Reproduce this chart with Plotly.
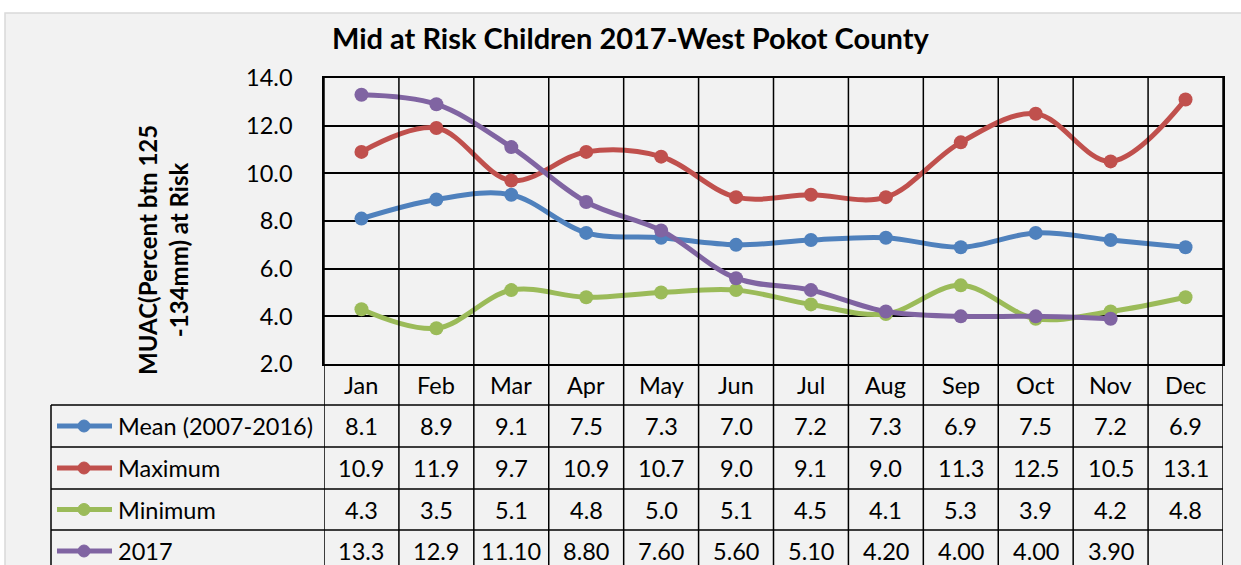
import plotly.graph_objects as go

W, H = 1241, 565

months = ["Jan", "Feb", "Mar", "Apr", "May", "Jun", "Jul", "Aug", "Sep", "Oct", "Nov", "Dec"]
series_names = ["Mean (2007-2016)", "Maximum", "Minimum", "2017"]
mean_vals = [8.1, 8.9, 9.1, 7.5, 7.3, 7.0, 7.2, 7.3, 6.9, 7.5, 7.2, 6.9]
max_vals = [10.9, 11.9, 9.7, 10.9, 10.7, 9.0, 9.1, 9.0, 11.3, 12.5, 10.5, 13.1]
min_vals = [4.3, 3.5, 5.1, 4.8, 5.0, 5.1, 4.5, 4.1, 5.3, 3.9, 4.2, 4.8]
y2017_vals = [13.3, 12.9, 11.10, 8.80, 7.60, 5.60, 5.10, 4.20, 4.00, 4.00, 3.90, None]
mean_labels = ["8.1", "8.9", "9.1", "7.5", "7.3", "7.0", "7.2", "7.3", "6.9", "7.5", "7.2", "6.9"]
max_labels = ["10.9", "11.9", "9.7", "10.9", "10.7", "9.0", "9.1", "9.0", "11.3", "12.5", "10.5", "13.1"]
min_labels = ["4.3", "3.5", "5.1", "4.8", "5.0", "5.1", "4.5", "4.1", "5.3", "3.9", "4.2", "4.8"]
y2017_labels = ["13.3", "12.9", "11.10", "8.80", "7.60", "5.60", "5.10", "4.20", "4.00", "4.00", "3.90", ""]
colors = ["#4f81bd", "#c0504d", "#9bbb59", "#8064a2"]

all_vals = [mean_vals, max_vals, min_vals, y2017_vals]
all_labels = [mean_labels, max_labels, min_labels, y2017_labels]

FONT = "Lato"
FS = 23.5

def px(x):
    return x / W

def py(y):
    return 1 - y / H

PL, PR, PT, PB = 324, 1223, 78, 364
ROW_Y = [364, 405, 447, 489, 530, 572]
LEG_L = 51

fig = go.Figure()
xs = list(range(len(months)))
for name, vals, c in zip(series_names, all_vals, colors):
    fig.add_trace(go.Scatter(
        x=xs, y=vals, name=name, mode="lines+markers",
        line=dict(color=c, width=5, shape="spline", smoothing=1),
        marker=dict(color=c, size=14),
        connectgaps=False, showlegend=False, cliponaxis=False,
    ))

shapes = []
shapes.append(dict(type="rect", xref="paper", yref="paper", x0=px(5), x1=px(1260), y0=py(13), y1=py(600),
                   fillcolor="#f2f2f2", line=dict(color="#d9d9d9", width=1.5), layer="below"))
for k in range(len(months) + 1):
    shapes.append(dict(type="line", xref="x", yref="paper", x0=k - 0.5, x1=k - 0.5,
                       y0=py(PT), y1=py(600), line=dict(color="black", width=1.5)))
shapes.append(dict(type="line", xref="paper", yref="paper", x0=px(LEG_L), x1=px(LEG_L),
                   y0=py(ROW_Y[1]), y1=py(600), line=dict(color="black", width=1.5)))
for ry in ROW_Y[1:5]:
    shapes.append(dict(type="line", xref="paper", yref="paper", x0=px(LEG_L), x1=px(PR),
                       y0=py(ry), y1=py(ry), line=dict(color="black", width=1.5)))

annotations = []
annotations.append(dict(text="<b>Mid at Risk Children 2017-West Pokot County</b>", xref="paper", yref="paper",
                        x=px(630), y=py(38), showarrow=False, xanchor="center", yanchor="middle",
                        font=dict(family=FONT, size=29, color="black")))
annotations.append(dict(text="<b>MUAC(Percent btn 125<br>-134mm) at Risk</b>", xref="paper", yref="paper",
                        x=px(163), y=py(250), showarrow=False, textangle=-90, xanchor="center", yanchor="middle",
                        font=dict(family=FONT, size=24, color="black")))
for i, m in enumerate(months):
    annotations.append(dict(text=m, xref="x", yref="paper", x=i, y=py((ROW_Y[0] + ROW_Y[1]) / 2),
                            showarrow=False, xanchor="center", yanchor="middle",
                            font=dict(family=FONT, size=FS, color="black")))
for r, (name, labels, c) in enumerate(zip(series_names, all_labels, colors)):
    cy = (ROW_Y[r + 1] + ROW_Y[r + 2]) / 2
    for i, t in enumerate(labels):
        if t:
            annotations.append(dict(text=t, xref="x", yref="paper", x=i, y=py(cy),
                                    showarrow=False, xanchor="center", yanchor="middle",
                                    font=dict(family=FONT, size=FS, color="black")))
    shapes.append(dict(type="line", xref="paper", yref="paper", x0=px(57), x1=px(112), y0=py(cy), y1=py(cy),
                       line=dict(color=c, width=5)))
    shapes.append(dict(type="circle", xref="paper", yref="paper", x0=px(78), x1=px(90), y0=py(cy - 6), y1=py(cy + 6),
                       fillcolor=c, line=dict(color=c, width=1)))
    annotations.append(dict(text=name, xref="paper", yref="paper", x=px(116), y=py(cy),
                            showarrow=False, xanchor="left", yanchor="middle",
                            font=dict(family=FONT, size=FS, color="black")))

fig.update_layout(
    width=W, height=H, margin=dict(l=0, r=0, t=0, b=0, autoexpand=False),
    paper_bgcolor="white", plot_bgcolor="white",
    shapes=shapes, annotations=annotations, showlegend=False,
    xaxis=dict(domain=[px(PL), px(PR)], range=[-0.5, 11.5], showticklabels=False, showgrid=False,
               zeroline=False, showline=True, linecolor="black", linewidth=1.5, mirror=True,
               fixedrange=True, automargin=False),
    yaxis=dict(domain=[py(PB), py(PT)], range=[2, 14], dtick=2, tickformat=".1f", showgrid=True,
               gridcolor="black", gridwidth=1.5, zeroline=False, showline=True, linecolor="black",
               linewidth=1.5, mirror=True, ticks="", ticklabelstandoff=25, automargin=False,
               tickfont=dict(family=FONT, size=FS, color="black"), fixedrange=True),
)

fig.write_html("out.html")
